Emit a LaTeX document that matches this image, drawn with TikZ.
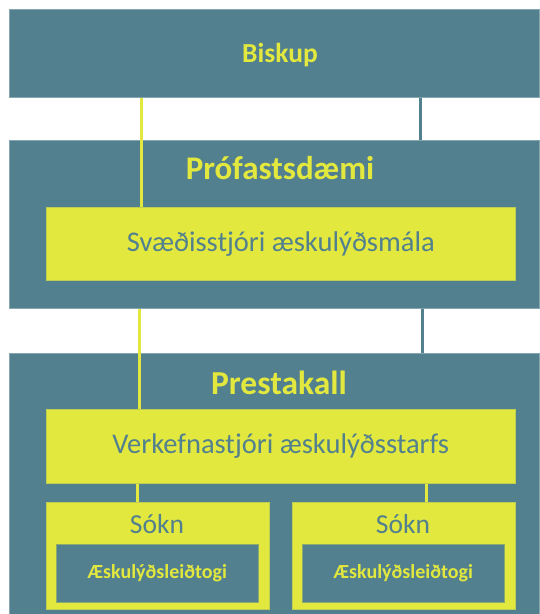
\documentclass[tikz,border=0pt]{standalone}
\usepackage{fontspec}
\setmainfont{Carlito}
\usepackage{xcolor}
\usetikzlibrary{positioning}

\definecolor{kteal}{HTML}{52808E}
\definecolor{kyellow}{HTML}{E2E83E}

\tikzset{
  band/.style={rectangle, fill=kteal, draw=kteal!70!white, line width=0.6pt,
    anchor=north west, inner sep=0pt},
  ybox/.style={rectangle, fill=kyellow, draw=kyellow!75!kteal, line width=0.6pt,
    anchor=north west, inner sep=0pt, text=kteal,
    font=\fontsize{28.5}{30}\selectfont},
  tbox/.style={rectangle, fill=kteal, draw=kteal!60!kyellow, line width=0.6pt,
    anchor=north west, inner sep=0pt, text=kyellow,
    font=\bfseries\fontsize{20}{22}\selectfont},
  title/.style={text=kyellow, font=\bfseries\fontsize{#1}{#1}\selectfont, inner sep=0pt},
  sokntxt/.style={text=kteal, font=\fontsize{27.5}{30}\selectfont, inner sep=0pt},
  yline/.style={draw=kyellow, line width=3pt},
  tline/.style={draw=kteal, line width=3pt},
}

\begin{document}
\begin{tikzpicture}[x=1pt, y=-1pt]

    \useasboundingbox (0,0) rectangle (539,614);

    % level bands
    \node[band, minimum width=530, minimum height=88]  (biskup) at (9,9)   {};
    \node[band, minimum width=530, minimum height=168] (prof)   at (9,140) {};
    \node[band, minimum width=530, minimum height=261] (presta) at (9,353) {};

    \node[title=27.5] (t_biskup) at (280,55)  {Biskup};
    \node[title=33]   (t_prof)   at (280,168) {Prófastsdæmi};
    \node[title=33.5] (t_presta) at (279,383) {Prestakall};

    % connector x positions
    \coordinate (x_a) at (141,0);
    \coordinate (x_b) at (420,0);
    \coordinate (x_c) at (139,0);
    \coordinate (x_d) at (422,0);
    \coordinate (x_e) at (137,0);
    \coordinate (x_f) at (426,0);

    % the connection
    \draw[yline] (biskup.south -| x_a) -- (prof.north -| x_a) -- ++(0,67);
    \draw[tline] (biskup.south -| x_b) -- (prof.north -| x_b);
    \draw[yline] (prof.south -| x_c) -- (presta.north -| x_c) -- ++(0,56);
    \draw[tline] (prof.south -| x_d) -- (presta.north -| x_d);

    % staff boxes
    \node[ybox, minimum width=469, minimum height=73] (svaedi) at (46,207) {Svæðisstjóri æskulýðsmála};
    \node[ybox, minimum width=469, minimum height=74] (verk)   at (46,409) {Verkefnastjóri æskulýðsstarfs};

    % parish boxes
    \node[ybox, minimum width=223, minimum height=107] (sokn_a) at (46,502)  {};
    \node[ybox, minimum width=223, minimum height=107] (sokn_b) at (292,502) {};
    \node[sokntxt] (t_sokn_a) at (157,524) {Sókn};
    \node[sokntxt] (t_sokn_b) at (403,524) {Sókn};

    \node[tbox, minimum width=202, minimum height=58] (leid_a) at (56,544)  {Æskulýðsleiðtogi};
    \node[tbox, minimum width=202, minimum height=58] (leid_b) at (302,544) {Æskulýðsleiðtogi};

    \draw[yline] (verk.south -| x_e) -- (sokn_a.north -| x_e);
    \draw[yline] (verk.south -| x_f) -- (sokn_b.north -| x_f);

\end{tikzpicture}
\end{document}
